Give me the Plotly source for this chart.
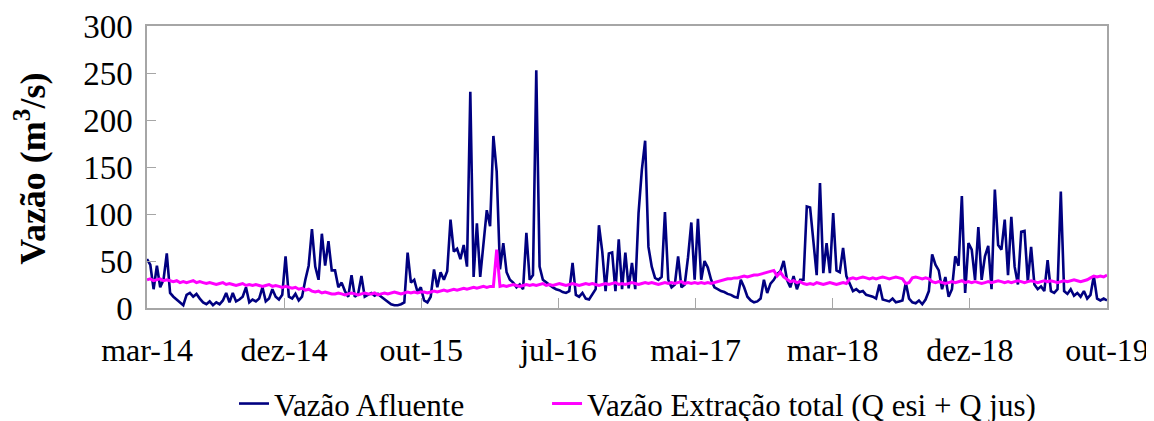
import pandas as pd
import plotly.graph_objects as go

# ---- data (weekly readings, m3/s) ----
inicio = "2014-03-08"
passo = "7D"

afluente_p1 = [52, 46, 20, 45, 22, 30, 58, 16, 12, 9,
               6, 3, 14, 16, 12, 15, 10, 6, 4, 7,
               3, 6, 4, 8, 16, 6, 16, 7, 9, 12,
               22, 6, 9, 7, 10, 22, 7, 10, 20, 12,
               9, 14, 55, 12, 10, 15, 8, 12, 30, 45,
               84, 44, 30, 79, 45, 71, 40, 40, 22, 27,
               18, 12, 35, 12, 15, 34, 12, 14, 16, 13,
               15, 12, 9, 6, 4, 3, 3, 4, 6, 59]
afluente_p2 = [27, 30, 17, 22, 8, 6, 12, 41, 22, 38,
               30, 39, 94, 60, 63, 52, 67, 44, 230, 33,
               90, 33, 65, 104, 87, 183, 145, 41, 69, 38,
               30, 27, 22, 25, 20, 80, 30, 35, 253, 44,
               30, 27, 24, 22, 20, 19, 17, 16, 18, 48,
               14, 12, 16, 10, 9, 14, 20, 88, 60, 18,
               58, 59, 18, 73, 20, 59, 21, 48, 20, 101,
               147, 178, 65, 44, 32, 30, 33, 102, 30, 22]
afluente_p3 = [25, 55, 22, 25, 54, 91, 30, 95, 30, 50,
               43, 30, 22, 20, 18, 17, 15, 14, 12, 11,
               30, 22, 12, 8, 6, 7, 10, 30, 16, 26,
               30, 36, 39, 50, 30, 22, 34, 20, 30, 30,
               108, 107, 69, 35, 133, 37, 69, 37, 101, 40,
               38, 64, 34, 25, 18, 20, 17, 18, 14, 13,
               12, 10, 25, 9, 8, 7, 10, 6, 7, 8]
afluente_p4 = [27, 10, 6, 5, 8, 4, 9, 18, 57, 46,
               40, 20, 33, 12, 20, 55, 45, 119, 16, 69,
               62, 30, 86, 30, 55, 66, 20, 126, 67, 62,
               94, 35, 97, 44, 25, 81, 82, 28, 65, 25,
               20, 23, 18, 51, 18, 16, 20, 124, 18, 15,
               20, 13, 16, 12, 18, 10, 14, 34, 10, 8,
               10, 8]

extracao_p1 = [30, 31, 29, 30, 31, 29, 30, 29,
               28, 29, 27, 28, 27, 28, 29, 27, 28,
               27, 26, 27, 26, 25, 26, 27, 25, 26,
               25, 24, 25, 26, 24, 25, 24, 25, 24, 23, 24, 25, 23, 24, 23,
               22, 23, 22, 21, 22, 20, 21,
               19, 20, 18, 17, 18, 16, 17, 16, 15,
               15, 16, 15, 14, 15, 16, 15, 14, 15, 16, 15, 15, 16, 14, 15,
               16, 15, 16, 17, 16, 15, 16, 17, 16, 17, 16, 17]
extracao_p2 = [17, 16, 17, 18, 17, 18, 19, 18, 19, 20, 19, 20, 21, 20, 21,
               22, 21, 22, 23, 22, 23, 23,
               62,
               23, 24, 23, 24, 25, 24, 23, 24, 25, 24, 25, 24, 25, 26, 24, 25,
               24, 25, 26, 25, 24, 25, 26, 25, 24, 25, 26, 25, 26, 25, 24, 25,
               26, 25, 26, 27, 25, 26, 25, 26, 27, 26, 25, 26, 27, 26, 27, 26,
               25, 26, 27, 26, 27, 26, 27, 28, 26, 27, 26, 27, 26, 27, 26, 27,
               26, 27]
extracao_p3 = [28, 29, 30, 31, 31, 32, 32, 33, 34, 33, 34, 35, 35, 36,
               37, 38, 39, 40, 34, 38, 33,
               30, 28, 29, 27, 28, 26,
               25, 26, 25, 27, 26, 25, 26, 27, 26, 25, 26, 27, 26,
               31, 32, 31, 32, 33, 32, 31, 32, 31, 32, 33, 32, 31, 32, 33, 32, 31,
               26, 27,
               32, 33, 32, 31, 32, 31]
extracao_p4 = [28, 27, 28, 27, 26, 27, 28, 27, 28, 29, 27, 28, 27, 28, 27, 26,
               27, 28, 27, 28, 29, 28, 27, 28, 27, 28, 29, 28, 27, 28, 29, 28,
               27, 28, 29, 28, 29, 28, 27, 28, 29, 28, 29, 30, 29, 28, 29, 30,
               32, 34, 33, 34, 33, 35]

rotulos_x = ["mar-14", "dez-14", "out-15", "jul-16", "mai-17", "mar-18", "dez-18", "out-19"]
intervalo_rotulos = "291D"

nome_afluente = "Vazão Afluente"
nome_extracao = "Vazão Extração total (Q esi + Q jus)"

# ---- build ----
afluente = afluente_p1 + afluente_p2 + afluente_p3 + afluente_p4
extracao = extracao_p1 + extracao_p2 + extracao_p3 + extracao_p4
datas_afl = pd.date_range(inicio, periods=len(afluente), freq=passo)
datas_ext = pd.date_range(inicio, periods=len(extracao), freq=passo)
tick_datas = pd.date_range(inicio, periods=len(rotulos_x), freq=intervalo_rotulos)

FONT = "Liberation Serif"

fig = go.Figure()
fig.add_trace(go.Scatter(x=datas_afl, y=afluente, mode="lines", name=nome_afluente,
                         line=dict(color="#000080", width=2.6), legend="legend"))
fig.add_trace(go.Scatter(x=datas_ext, y=extracao, mode="lines", name=nome_extracao,
                         line=dict(color="#FF00FF", width=3), legend="legend2"))

axis_col = "#a6a6a6"
leg_common = dict(orientation="h", xanchor="left", y=-0.34, yanchor="middle",
                  font=dict(family=FONT, size=31, color="black"), bgcolor="rgba(0,0,0,0)")
# page body has an 8px margin, so the figure is slightly smaller than the window
fig.update_layout(
    width=1146, height=413,
    margin=dict(l=139, r=47, t=17.5, b=112.5, autoexpand=False),
    paper_bgcolor="white", plot_bgcolor="white",
    font=dict(family=FONT, color="black"),
    showlegend=True,
    legend=dict(x=0.0906, **leg_common),
    legend2=dict(x=0.4167, **leg_common),
    xaxis=dict(range=[tick_datas[0], tick_datas[-1]], tickvals=tick_datas, ticktext=rotulos_x,
               automargin=False, ticklabeloverflow="allow",
               showgrid=False, zeroline=False, showline=True, linecolor=axis_col, linewidth=1.5,
               mirror=True, ticks="inside", ticklen=10, tickcolor=axis_col,
               tickfont=dict(family=FONT, size=32), ticklabelstandoff=13),
    yaxis=dict(range=[0, 300], dtick=50, showgrid=False, zeroline=False, showline=True,
               automargin=False, ticklabeloverflow="allow",
               linecolor=axis_col, linewidth=1.5, mirror=True, ticks="inside", ticklen=9,
               tickcolor=axis_col, tickfont=dict(family=FONT, size=33), ticklabelstandoff=6),
    annotations=[dict(text="<b>Vazão (m<sup>3</sup>/s)</b>", textangle=-90, xref="paper", yref="paper",
                      x=-0.121, y=0.493, xanchor="center", yanchor="middle", showarrow=False,
                      font=dict(family=FONT, size=36))],
)

fig.write_html("out.html")
